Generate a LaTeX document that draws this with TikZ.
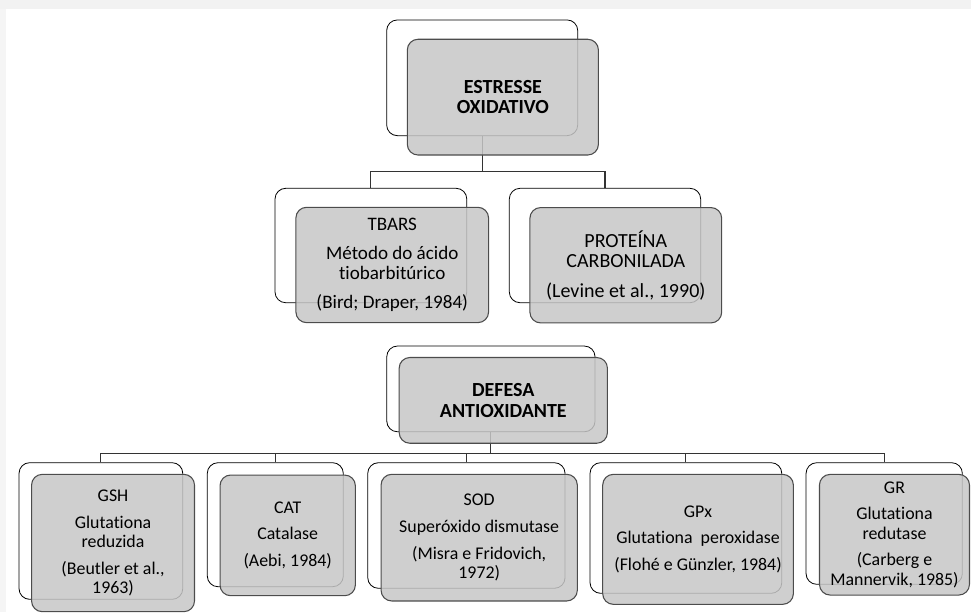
\documentclass[tikz,border=0pt]{standalone}
\usepackage{fontspec}
\setmainfont{Carlito}[Ligatures=NoCommon]
\usetikzlibrary{positioning,backgrounds}

\begin{document}
\begin{tikzpicture}[x=0.75pt, y=-0.75pt,
  fundo/.style={draw=black, line width=0.6pt, fill=white, rounded corners=8pt},
  frente/.style={draw=black!70, line width=0.8pt, fill=black!22, fill opacity=0.85, text opacity=1,
    rounded corners=8pt, align=center, font=\fontsize{13.4}{14.5}\selectfont},
  medio/.style={frente, font=\fontsize{14.3}{15}\selectfont},
  titulo/.style={frente, font=\fontsize{15}{15.5}\selectfont\bfseries},
  liga/.style={draw=black!80, line width=0.8pt}]
  \useasboundingbox (0,0) rectangle (971,612);
  \fill[black!5] (0,0) rectangle (971,9);
  \fill[black!4] (0,9) rectangle (6,612);

  \node[fundo, minimum width=143.3pt, minimum height=86.8pt] (EOb) at (482.2,77.8) {};
  \node[titulo, minimum width=143.3pt, minimum height=86.8pt, xshift=15.5pt, yshift=-14.5pt] (EO) at (EOb) {ESTRESSE\\OXIDATIVO};

  \node[fundo, minimum width=143.8pt, minimum height=85.8pt] (TBb) at (370.9,245.5) {};
  \node[medio, minimum width=144.5pt, minimum height=86.5pt, xshift=16pt, yshift=-14.6pt] (TB) at (TBb)
    {TBARS\\[7pt] Método do ácido\\tiobarbitúrico\\[7pt] (Bird; Draper, 1984)};

  \node[fundo, minimum width=143.5pt, minimum height=85.8pt] (PCb) at (605,245.5) {};
  \node[medio, font=\fontsize{15}{15.5}\selectfont, minimum width=143.8pt, minimum height=86.5pt, xshift=15.6pt, yshift=-14.8pt] (PC) at (PCb)
    {PROTEÍNA\\CARBONILADA\\[6.5pt] (Levine et al., 1990)};

  \node[fundo, minimum width=156.2pt, minimum height=64.3pt] (DAb) at (490.9,388.9) {};
  \node[titulo, minimum width=156.2pt, minimum height=64.3pt, xshift=9.3pt, yshift=-8.6pt] (DA) at (DAb) {DEFESA\\ANTIOXIDANTE};

  \node[fundo, minimum width=122.8pt, minimum height=102.5pt] (GSHb) at (100.9,531) {};
  \node[frente, minimum width=122.2pt, minimum height=103pt, xshift=9.1pt, yshift=-9pt] (GSH) at (GSHb)
    {GSH\\[5.5pt] Glutationa\\reduzida\\[5.5pt] (Beutler et al.,\\1963)};

  \node[fundo, minimum width=102pt, minimum height=93pt] (CATb) at (275.3,524.7) {};
  \node[frente, minimum width=101.5pt, minimum height=90.5pt, xshift=9.3pt, yshift=-8pt] (CAT) at (CATb)
    {CAT\\[5.5pt] Catalase\\[5.5pt] (Aebi, 1984)};

  \node[fundo, minimum width=148pt, minimum height=94.2pt] (SODb) at (466.4,525.5) {};
  \node[frente, minimum width=147.2pt, minimum height=95pt, xshift=9.6pt, yshift=-9.1pt] (SOD) at (SODb)
    {SOD\\[5.5pt] Superóxido dismutase\\[5.5pt] (Misra e Fridovich,\\1972)};

  \node[fundo, minimum width=143.8pt, minimum height=98pt] (GPXb) at (685.9,528) {};
  \node[frente, minimum width=143pt, minimum height=97.5pt, xshift=9.1pt, yshift=-8.5pt] (GPX) at (GPXb)
    {GPx\\[5.5pt] Glutationa\ \ peroxidase\\[5.5pt] (Flohé e Günzler, 1984)};

  \node[fundo, minimum width=117.2pt, minimum height=91.2pt] (GRb) at (884.2,523.5) {};
  \node[frente, minimum width=112.5pt, minimum height=90.5pt, xshift=7.7pt, yshift=-8.4pt] (GR) at (GRb)
    {GR\\[5.5pt] Glutationa\\redutase\\[5.5pt] (Carberg e\\Mannervik, 1985)};

  \begin{scope}[on background layer]
    \coordinate (J1) at (482.2,171.7);
    \draw[liga] (EOb) -- (J1);
    \draw[liga] (TBb.north) |- (J1) -| (PCb.north);

    \coordinate (J2) at (490.9,453.3);
    \draw[liga] (DAb) -- (J2);
    \draw[liga] (GSHb.north) |- (J2) -| (GRb.north);
    \draw[liga] (CATb.north) -- (CATb.north |- J2);
    \draw[liga] (SODb.north) -- (SODb.north |- J2);
    \draw[liga] (GPXb.north) -- (GPXb.north |- J2);
  \end{scope}
\end{tikzpicture}
\end{document}
